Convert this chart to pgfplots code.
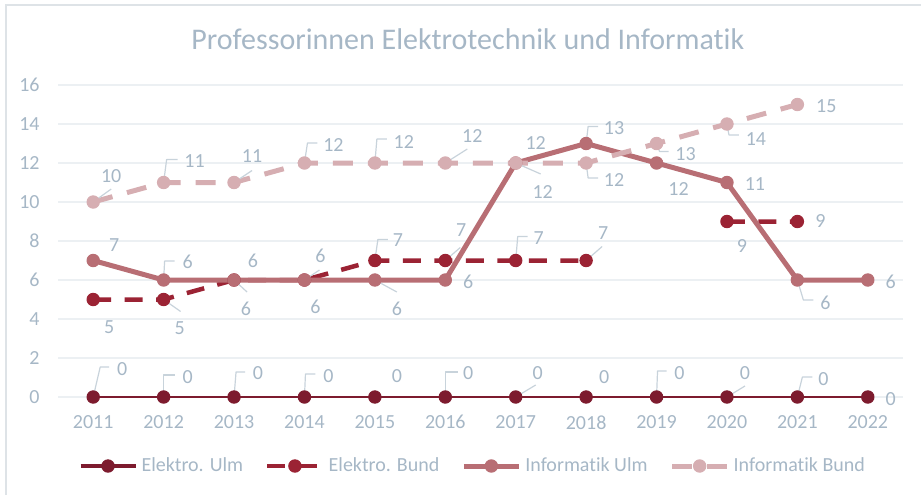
\documentclass[border=0pt]{standalone}
\usepackage{fontspec}
\setmainfont{Carlito}[Ligatures=NoCommon]
\usepackage{pgfplots}
\pgfplotsset{compat=1.18}

\definecolor{eu}{RGB}{125,27,46}
\definecolor{eb}{RGB}{155,35,52}
\definecolor{iu}{RGB}{184,110,116}
\definecolor{ib}{RGB}{214,174,178}
\definecolor{txt}{RGB}{166,183,198}
\definecolor{gridc}{RGB}{236,240,243}
\definecolor{lead}{RGB}{200,211,219}
\definecolor{bordc}{RGB}{222,227,231}

% data labels with leader lines; offsets in px (y downwards), 1px = 0.5pt
\pgfplotsset{
  lbls/.style={
    scatter,
    visualization depends on={\thisrow{dx}\as\ddx},
    visualization depends on={\thisrow{dy}\as\ddy},
    visualization depends on={\thisrow{ax}\as\aax},
    visualization depends on={\thisrow{ay}\as\aay},
    visualization depends on={\thisrow{bx}\as\bbx},
    visualization depends on={\thisrow{by}\as\bby},
    visualization depends on={value \thisrow{y}\as\lab},
    scatter/@pre marker code/.code={%
      \draw[lead, line width=0.6pt, solid] (0pt,0pt)
        -- ({(\aax)*0.5pt},{(\aay)*(-0.5pt)})
        -- ({(\bbx)*0.5pt},{(\bby)*(-0.5pt)});
      \node[text=txt, inner sep=0pt, font=\fontsize{10}{12}\selectfont]
        at ({(\ddx)*0.5pt},{(\ddy)*(-0.5pt)}) {\lab};
      \pgfscope},
    scatter/@post marker code/.code={\endpgfscope},
  },
  mk/.style={mark=*, mark size=3.1pt, mark options={solid, fill=#1, line width=0.5pt}},
}

\begin{document}
\begin{tikzpicture}
\useasboundingbox (0,0) rectangle (460.5pt,247.5pt);
\draw[bordc, line width=0.8pt] (3pt,0pt) -- (3pt,245pt) -- (460.5pt,245pt);
\begin{axis}[
  at={(29pt,49pt)}, anchor=south west,
  scale only axis, width=422.5pt, height=156pt,
  xmin=-0.5, xmax=11.5, ymin=0, ymax=16,
  xtick={0,1,2,3,4,5,6,7,8,9,10,11},
  xticklabels={2011,2012,2013,2014,2015,2016,2017,2018,2019,2020,2021,2022},
  ytick={0,2,...,16},
  axis line style={draw=none},
  tick style={draw=none},
  ymajorgrids, grid style={gridc, line width=0.9pt},
  ticklabel style={text=txt, font=\fontsize{10}{12}\selectfont},
  /pgf/number format/assume math mode=true,
  yticklabel style={inner sep=0pt, xshift=-9pt},
  xticklabel style={inner sep=0pt, yshift=-9pt},
  title={Professorinnen Elektrotechnik und Informatik},
  title style={at={(0.485,1)}, anchor=center, yshift=17pt,
    font=\fontsize{15}{18}\selectfont, text=txt},
  legend columns=4,
  legend style={at={(0.492,0)}, anchor=center, yshift=-34.5pt, draw=none, fill=none,
    font=\fontsize{10}{12}\selectfont, text=txt,
    /tikz/every even column/.append style={column sep=9pt}},
  legend image code/.code={\draw[mark repeat=2, mark phase=2, #1]
    plot coordinates {(0pt,0pt) (13.75pt,0pt) (27.5pt,0pt)};},
  clip=false,
  unbounded coords=jump,
  line join=round,
]
% Elektro. Ulm
\addplot[forget plot, eu, line width=1pt, mk=eu, lbls] table {
x y dx dy ax ay bx by
0 0 29 -28 7 -30 16 -30
1 0 24 -20 0 -22 11 -22
2 0 24 -24 2 -25 11 -25
3 0 24 -21 1 -23 11 -23
4 0 22 -21 0 0 0 0
5 0 23 -24 0 -25 13 -25
6 0 22 -24 20 -12 20 -12
7 0 18 -20 0 0 0 0
8 0 23 -24 1 -26 10 -26
9 0 18 -24 18 -11 18 -11
10 0 26 -18 5 -20 15 -20
11 0 23 2 0 0 0 0
};
% Elektro. Bund
\addplot[forget plot, eb, line width=2.25pt, dash pattern=on 9pt off 6.75pt, mk=eb, lbls] table {
x y dx dy ax ay bx by
0 5 16 28 0 0 0 0
1 5 16 29 17 12 17 12
2 6 19 -19 0 0 0 0
3 6 16 -24 15 -10 15 -10
4 7 23 -20 3 -21 13 -21
5 7 16 -30 15 -13 15 -13
6 7 23 -22 2 -24 12 -24
7 7 17 -27 16 -14 16 -14
8 nan 0 0 0 0 0 0
9 9 15 25 0 0 0 0
10 9 23 0 0 0 0 0
};
% Informatik Ulm
\addplot[forget plot, iu, line width=2.5pt, mk=iu, lbls] table {
x y dx dy ax ay bx by
0 7 21 -15 0 0 0 0
1 6 24 -18 1 -19 11 -19
2 6 12 29 13 12 13 12
3 6 11 27 0 0 0 0
4 6 22 29 22 12 22 12
5 6 23 2 0 0 0 0
6 12 20 -20 0 0 0 0
7 13 28 -15 2 -17 12 -17
8 12 22 26 0 0 0 0
9 11 28 2 0 0 0 0
10 6 28 23 6 20 16 20
11 6 23 2 0 0 0 0
};
% Informatik Bund
\addplot[forget plot, ib, line width=2.5pt, dash pattern=on 10pt off 7.5pt, mk=ib, lbls] table {
x y dx dy ax ay bx by
0 10 18 -26 18 -13 18 -13
1 11 31 -21 3 -23 14 -23
2 11 18 -26 18 -12 18 -12
3 12 29 -18 3 -20 13 -20
4 12 29 -21 2 -24 12 -24
5 12 27 -27 22 -14 22 -14
6 12 27 29 25 11 25 11
7 12 28 17 2 15 12 15
8 13 29 11 3 8 12 8
9 14 29 15 2 11 12 11
10 15 29 2 0 0 0 0
};
\addlegendimage{eu, line width=2pt, mk=eu}
\addlegendentry{Elektro. Ulm}
\addlegendimage{eb, line width=2.25pt, dash pattern=on 9pt off 6.75pt, mk=eb}
\addlegendentry{Elektro. Bund}
\addlegendimage{iu, line width=2.5pt, mk=iu}
\addlegendentry{Informatik Ulm}
\addlegendimage{ib, line width=2.5pt, dash pattern=on 10pt off 7.5pt, mk=ib}
\addlegendentry{Informatik Bund}
\end{axis}
\end{tikzpicture}
\end{document}
